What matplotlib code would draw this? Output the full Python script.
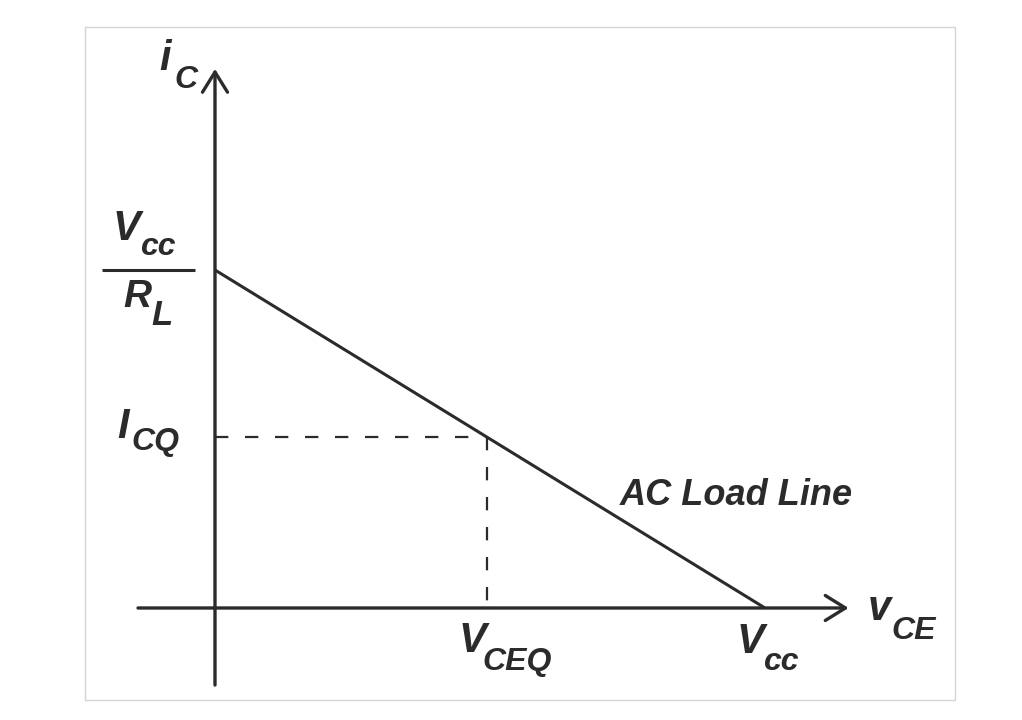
import matplotlib
matplotlib.use("Agg")
import matplotlib.pyplot as plt
from matplotlib.patches import Rectangle
from matplotlib.transforms import offset_copy

# AC load line of a transistor stage, normalised units
vcc = 1.0          # V_CC  (x-intercept)
ic_max = 1.0       # V_CC / R_L  (y-intercept)
vceq = 0.495       # quiescent V_CE
icq = 0.505        # quiescent I_C

load_x = [0.0, vcc]
load_y = [ic_max, 0.0]

ink = '#2b2b2b'

plt.rcParams['font.family'] = ['Liberation Sans', 'DejaVu Sans']

fig = plt.figure(figsize=(10.22, 7.2), dpi=100)
ax = fig.add_axes([0, 0, 1, 1])
ax.set_xlim(-0.3909, 1.4673)
ax.set_ylim(-0.3314, 1.7988)
ax.axis('off')

# light frame round the drawing
fig.patches.append(Rectangle((0.0832, 0.0278), 0.851, 0.935, transform=fig.transFigure,
                             fill=False, ec='#d4d4d4', lw=1))

# axes with open arrow heads
arrow = dict(arrowstyle='->,head_length=1.45,head_width=0.9', lw=2.4, color=ink,
             shrinkA=0, shrinkB=0, mutation_scale=10)
ax.annotate('', xy=(1.152, 0), xytext=(-0.14, 0), arrowprops=arrow)
ax.annotate('', xy=(0, 1.595), xytext=(0, -0.228), arrowprops=arrow)

# load line and Q-point guides
ax.plot(load_x, load_y, color=ink, lw=2.2, solid_capstyle='butt')
ax.plot([0, vceq], [icq, icq], color=ink, lw=1.6, linestyle=(0, (6, 7.5)))
ax.plot([vceq, vceq], [icq, 0], color=ink, lw=1.6, linestyle=(0, (6, 7.5)))

# Vcc / RL fraction bar
ax.plot([-0.205, -0.036], [ic_max, ic_max], color=ink, lw=2.2, solid_capstyle='butt')

renderer = fig.canvas.get_renderer()
font = dict(color=ink, fontweight='bold', fontstyle='italic', ha='left', va='baseline')


def label(x, y, main, sub, drop, gap=0.5, msize=30, ssize=23):
    t = ax.text(x, y, main, fontsize=msize, **font)
    bb = t.get_window_extent(renderer)
    xr = ax.transData.inverted().transform((bb.x1, bb.y0))[0]
    tr = offset_copy(ax.transData, fig=fig, x=gap, y=-drop, units='points')
    ax.text(xr, y, sub, fontsize=ssize, transform=tr, **font)


label(-0.102, 1.592, 'i', 'C', drop=13, gap=3)
label(-0.186, 1.089, 'V', 'cc', drop=11, gap=0)
label(-0.166, 0.891, 'R', 'L', drop=13, gap=0, msize=28, ssize=25)
label(-0.178, 0.503, 'I', 'CQ', drop=8.6, gap=2)
label(0.443, -0.130, 'V', 'CEQ', drop=13, gap=-3)
label(0.949, -0.133, 'V', 'cc', drop=12, gap=-1)
label(1.187, -0.0355, 'v', 'CE', drop=14, gap=0)

ax.text(0.947, 0.334, 'AC Load Line', color=ink, fontsize=26, fontweight='bold',
        fontstyle='italic', ha='center', va='center')

fig.savefig('out.png', dpi=100, facecolor='white')
